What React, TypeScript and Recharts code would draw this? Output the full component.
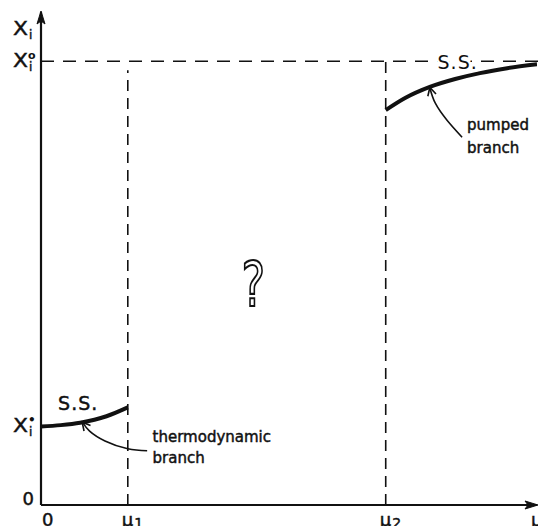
import React from 'react';
import {
  ComposedChart,
  Line,
  XAxis,
  YAxis,
  ReferenceLine,
  ReferenceDot,
} from 'recharts';

// Control parameter values on the μ axis
const MU1 = 1.75;
const MU2 = 6.95;
const MU_END = 10;

// Concentration levels on the X_i axis
const X_EQ = 1.6;
const X_ZERO_SUPER = 9;
const X_AXIS_TOP = 9.65;
const Y_END = 10;

// Steady-state branches
const thermodynamicBranch = [
  { x: 0, y: 1.59 },
  { x: 0.4, y: 1.62 },
  { x: 0.79, y: 1.67 },
  { x: 1.32, y: 1.8 },
  { x: 1.75, y: 1.98 },
];

const pumpedBranch = [
  { x: 6.95, y: 8.01 },
  { x: 7.35, y: 8.26 },
  { x: 7.84, y: 8.48 },
  { x: 8.35, y: 8.64 },
  { x: 8.85, y: 8.76 },
  { x: 9.4, y: 8.86 },
  { x: 10, y: 8.94 },
];

// Leader curves from the annotations to the branches
const thermoLeader = [
  { x: 0.84, y: 1.67 },
  { x: 0.98, y: 1.5 },
  { x: 1.29, y: 1.3 },
  { x: 1.75, y: 1.14 },
  { x: 2.14, y: 1.1 },
];

const pumpedLeader = [
  { x: 7.84, y: 8.46 },
  { x: 7.95, y: 8.15 },
  { x: 8.19, y: 7.8 },
  { x: 8.49, y: 7.46 },
];

// Tick labels
const xTicks = [0, MU1, MU2, MU_END];
const xTickLabels = [
  { base: '0', sub: '' },
  { base: 'μ', sub: '1' },
  { base: 'μ', sub: '2' },
  { base: 'μ', sub: '' },
];

const yTicks = [0, X_EQ, X_ZERO_SUPER, X_AXIS_TOP];
const yTickLabels = [
  { base: '0', sup: '', sub: '' },
  { base: 'X', sup: '•', sub: 'i' },
  { base: 'X', sup: 'o', sub: 'i' },
  { base: 'X', sup: '', sub: 'i' },
];

const FONT = '"DejaVu Sans", sans-serif';
const INK = '#111';
const EPS = 1e-6;

const inkText = { stroke: INK, strokeWidth: 0.45 };

const XTick = (props: any) => {
  const { x, y, payload, index } = props;
  const lab = xTickLabels[index] ?? { base: String(payload.value), sub: '' };
  const isZero = lab.base === '0';
  return (
    <text
      x={isZero ? x + 1 : x - 6}
      y={y + 13}
      fontFamily={FONT}
      fontSize={18}
      fill={INK}
      textAnchor="start"
      {...inkText}
    >
      <tspan>{lab.base}</tspan>
      {lab.sub ? (
        <tspan dx={1} dy={2} fontSize={14}>
          {lab.sub}
        </tspan>
      ) : null}
    </text>
  );
};

const YTick = (props: any) => {
  const { y, payload, index } = props;
  const lab = yTickLabels[index] ?? { base: String(payload.value), sup: '', sub: '' };
  if (lab.base === '0') {
    return (
      <text x={34} y={y} fontFamily={FONT} fontSize={18} fill={INK} textAnchor="end" {...inkText}>
        0
      </text>
    );
  }
  const bx = 13;
  const sx = 28;
  return (
    <g fontFamily={FONT} fill={INK}>
      <text x={bx} y={y + 6} fontSize={19} transform={`translate(${bx},0) scale(1.15,1) translate(${-bx},0)`} {...inkText}>
        {lab.base}
      </text>
      {lab.sup ? (
        <text x={sx} y={y - 2} fontSize={lab.sup === '•' ? 12 : 11} fontWeight="bold">
          {lab.sup}
        </text>
      ) : null}
      <text x={sx + 1} y={y + 10} fontSize={12} {...inkText}>
        {lab.sub}
      </text>
    </g>
  );
};

// Open chevron arrowhead pointing along +x before rotation
const chevron = (angle: number, len = 9, spread = 28) => (p: any) => {
  const r = (spread * Math.PI) / 180;
  const dx = -len * Math.cos(r);
  const dy = len * Math.sin(r);
  return (
    <path
      d={`M${dx},${-dy} L0,0 L${dx},${dy}`}
      transform={`translate(${p.cx},${p.cy}) rotate(${angle})`}
      fill="none"
      stroke={INK}
      strokeWidth={1.6}
    />
  );
};

// Filled arrowhead for the coordinate axes
const axisHead = (angle: number) => (p: any) => (
  <path
    d="M1,0 L-12,-4 L-9,0 L-12,4 Z"
    transform={`translate(${p.cx},${p.cy}) rotate(${angle})`}
    fill={INK}
    stroke={INK}
    strokeWidth={1}
  />
);

const haloText = {
  stroke: '#fff',
  strokeWidth: 5,
  paintOrder: 'stroke' as const,
};

export default function App() {
  return (
    <div style={{ position: 'absolute', left: 0, top: 0, background: '#fff' }}>
      <ComposedChart
        width={538}
        height={526}
        margin={{ top: 12, right: 1, bottom: 0, left: 0 }}
        style={{ fontFamily: FONT }}
      >
        <XAxis
          type="number"
          dataKey="x"
          domain={[0, MU_END]}
          ticks={xTicks}
          tick={<XTick />}
          tickLine={false}
          axisLine={{ stroke: INK, strokeWidth: 2.2 }}
          height={21}
          interval={0}
          allowDataOverflow
        />
        <YAxis
          type="number"
          dataKey="y"
          domain={[0, Y_END]}
          ticks={yTicks}
          tick={<YTick />}
          tickLine={false}
          axisLine={{ stroke: INK, strokeWidth: 2.2 }}
          width={41}
          interval={0}
          allowDataOverflow
        />

        {/* Reference levels */}
        <ReferenceLine
          segment={[
            { x: EPS, y: X_ZERO_SUPER },
            { x: 10.05, y: X_ZERO_SUPER },
          ]}
          stroke={INK}
          strokeWidth={1.4}
          strokeDasharray="13 9"
          ifOverflow="visible"
        />
        <ReferenceLine
          segment={[
            { x: MU1, y: EPS },
            { x: MU1, y: 8.82 },
          ]}
          stroke={INK}
          strokeWidth={1.6}
          strokeDasharray="11 7"
          ifOverflow="visible"
        />
        <ReferenceLine
          segment={[
            { x: MU2, y: EPS },
            { x: MU2, y: X_ZERO_SUPER },
          ]}
          stroke={INK}
          strokeWidth={1.6}
          strokeDasharray="11 7"
          ifOverflow="visible"
        />

        {/* Steady-state branches */}
        <Line
          data={thermodynamicBranch}
          dataKey="y"
          type="monotone"
          stroke={INK}
          strokeWidth={4}
          dot={false}
          isAnimationActive={false}
        />
        <Line
          data={pumpedBranch}
          dataKey="y"
          type="monotone"
          stroke={INK}
          strokeWidth={4}
          dot={false}
          isAnimationActive={false}
        />

        {/* Annotation leaders */}
        <Line
          data={thermoLeader}
          dataKey="y"
          type="natural"
          stroke={INK}
          strokeWidth={1.6}
          dot={false}
          isAnimationActive={false}
        />
        <Line
          data={pumpedLeader}
          dataKey="y"
          type="natural"
          stroke={INK}
          strokeWidth={1.6}
          dot={false}
          isAnimationActive={false}
        />
        <ReferenceDot x={0.83} y={1.68} shape={chevron(-130)} ifOverflow="visible" />
        <ReferenceDot x={7.84} y={8.47} shape={chevron(-105)} ifOverflow="visible" />

        {/* Axis arrowheads */}
        <ReferenceDot x={MU_END} y={EPS} shape={axisHead(0)} ifOverflow="visible" />
        <ReferenceDot x={EPS} y={Y_END} shape={axisHead(-90)} ifOverflow="visible" />

        {/* Text annotations */}
        <ReferenceDot
          x={0.75}
          y={1.92}
          ifOverflow="visible"
          shape={(p: any) => (
            <text x={p.cx} y={p.cy} fontFamily={FONT} fontSize={19} fill={INK} textAnchor="middle" letterSpacing={1} {...inkText}>
              S.S.
            </text>
          )}
        />
        <ReferenceDot
          x={8.4}
          y={8.98}
          ifOverflow="visible"
          shape={(p: any) => (
            <text x={p.cx} y={p.cy + 7} fontFamily={FONT} fontSize={19} fill={INK} textAnchor="middle" letterSpacing={1} {...haloText}>
              S.S.
            </text>
          )}
        />
        <ReferenceDot
          x={2.25}
          y={1.27}
          ifOverflow="visible"
          shape={(p: any) => (
            <text fontFamily={FONT} fontSize={15} fill={INK} {...inkText}>
              <tspan x={p.cx} y={p.cy}>thermodynamic</tspan>
              <tspan x={p.cx} y={p.cy + 21}>branch</tspan>
            </text>
          )}
        />
        <ReferenceDot
          x={8.59}
          y={7.61}
          ifOverflow="visible"
          shape={(p: any) => (
            <text fontFamily={FONT} fontSize={15} fill={INK} {...inkText}>
              <tspan x={p.cx} y={p.cy}>pumped</tspan>
              <tspan x={p.cx} y={p.cy + 23}>branch</tspan>
            </text>
          )}
        />
        <ReferenceDot
          x={4.28}
          y={4.03}
          ifOverflow="visible"
          shape={(p: any) => (
            <text
              x={p.cx}
              y={p.cy}
              fontFamily={FONT}
              fontSize={62}
              fill="#fff"
              stroke={INK}
              strokeWidth={2.2}
              textAnchor="middle"
              transform={`translate(${p.cx},0) scale(0.72,1) translate(${-p.cx},0)`}
            >
              ?
            </text>
          )}
        />
      </ComposedChart>
    </div>
  );
}
